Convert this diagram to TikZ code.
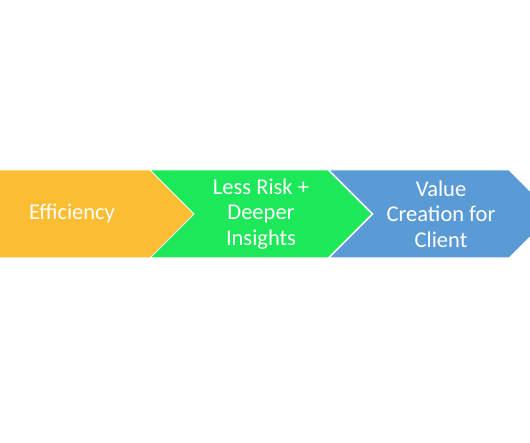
\documentclass[tikz,border=0pt]{standalone}
\usepackage{fontspec}
\setmainfont{Carlito}
\usetikzlibrary{shapes.symbols}
\definecolor{corange}{HTML}{FBBD31}
\definecolor{cgreen}{HTML}{1DE85A}
\definecolor{cblue}{HTML}{5B9BD5}
\tikzset{
  chev/.style={shape=signal, signal to=east, signal from=west,
               signal pointer angle=90, fill=#1, draw=white, line width=1pt,
               minimum height=88pt, inner sep=0pt, text=white, align=center,
               font=\fontsize{22.5}{25.5}\selectfont},
  plate/.style={chev=#1, signal from=nowhere}
}
\begin{document}
\begin{tikzpicture}[x=1pt,y=1pt]
  \useasboundingbox (0,0) rectangle (530,442);
  \node[plate=corange, minimum width=244pt] (eff) at (72,228) {Efficiency};
  \node[chev=cgreen,  minimum width=222pt] (risk) at (261,228) {Less Risk +\\Deeper\\Insights};
  \node[chev=cblue,   minimum width=224pt] (value) at (441,228) {Value\\Creation for\\Client};
\end{tikzpicture}
\end{document}
